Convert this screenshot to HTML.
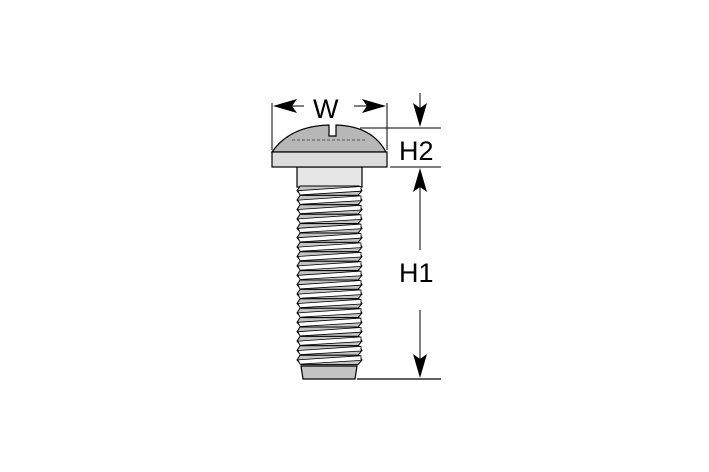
<!DOCTYPE html>
<html><head><meta charset="utf-8"><style>
html,body{margin:0;padding:0;background:#fff;width:709px;height:472px;overflow:hidden}
svg{display:block}
text{font-family:"Liberation Sans","DejaVu Sans",sans-serif;font-size:27px;fill:#000}
</style></head><body>
<svg id="s" width="709" height="472" viewBox="0 0 709 472" xmlns="http://www.w3.org/2000/svg">
<rect x="297" y="167" width="65" height="20" fill="#e6e6e6" stroke="#000" stroke-width="1.2"/>
<g id="thr"></g>
<polygon points="301,366 357,366 355,379 303,379" fill="#c4c4c4" stroke="#000" stroke-width="1.2"/>
<path d="M272,152 Q290,126 329,125 L329,136 L336,136 L336,125 Q372,126 386,152 Z" fill="#b7b7b7" stroke="#000" stroke-width="1.2"/>
<line x1="292" y1="140" x2="367" y2="140" stroke="#555" stroke-width="1" stroke-dasharray="3,2"/>
<rect x="272" y="152" width="115" height="15" fill="#dcdcdc" stroke="#000" stroke-width="1.2"/>
<line x1="272" y1="103" x2="272" y2="150" stroke="#000" stroke-width="1"/>
<line x1="387" y1="103" x2="387" y2="150" stroke="#000" stroke-width="1"/>
<line x1="290" y1="106" x2="304" y2="106" stroke="#000" stroke-width="1"/>
<line x1="354" y1="106" x2="370" y2="106" stroke="#000" stroke-width="1"/>
<polygon points="273,106 297,99 292,106 297,113" fill="#000"/>
<polygon points="386,106 362,99 367,106 362,113" fill="#000"/>
<text x="313" y="118">W</text>
<line x1="360" y1="128" x2="441" y2="128" stroke="#000" stroke-width="1"/>
<line x1="390" y1="167" x2="441" y2="167" stroke="#000" stroke-width="1"/>
<line x1="420" y1="93" x2="420" y2="110" stroke="#000" stroke-width="1"/>
<polygon points="420,127 413,103 420,108 427,103" fill="#000"/>
<polygon points="420,168 413,192 420,187 427,192" fill="#000"/>
<text x="399" y="160">H2</text>
<line x1="420" y1="187" x2="420" y2="250" stroke="#000" stroke-width="1"/>
<line x1="420" y1="310" x2="420" y2="360" stroke="#000" stroke-width="1"/>
<polygon points="420,378 413,354 420,359 427,354" fill="#000"/>
<line x1="357" y1="379" x2="441" y2="379" stroke="#000" stroke-width="1.2"/>
<text x="399" y="282">H1</text>
</svg>
<script>
var g=document.getElementById('thr'),h='',p=9.4,y0=186;
for(var i=0;i<19;i++){var y=y0+i*p;
h+='<polygon points="300,'+(y)+' 359,'+(y)+' 362,'+(y+p/2)+' 358,'+(y+p)+' 301,'+(y+p)+' 297,'+(y+p/2)+'" fill="#c4c4c4" stroke="#000" stroke-width="1"/>';
h+='<polygon points="298,'+(y+p/2)+' 361,'+(y+0.5)+' 361,'+(y+p/2+0.5)+' 300,'+(y+p-0.5)+'" fill="#fff" stroke="#000" stroke-width="0.8"/>';}
g.innerHTML=h;
</script>
</body></html>
